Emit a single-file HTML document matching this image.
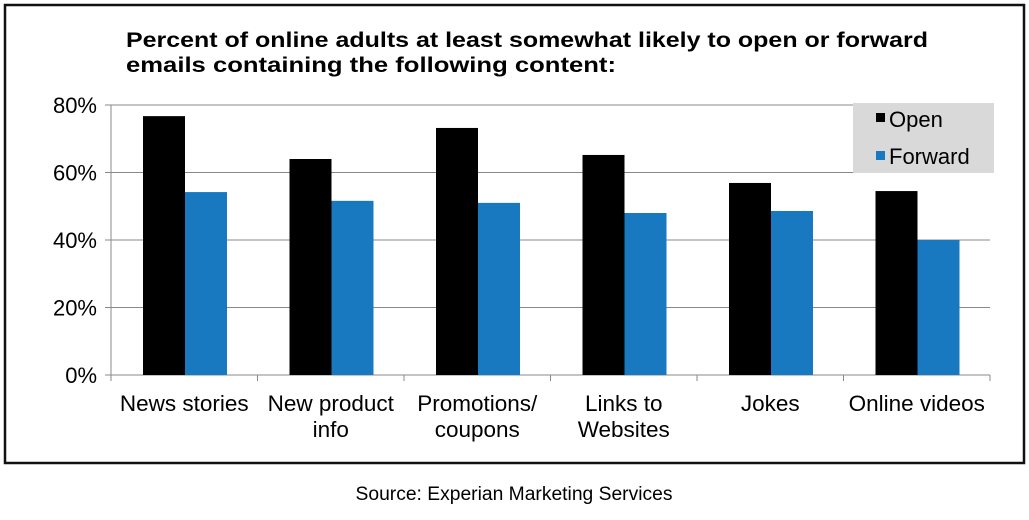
<!DOCTYPE html>
<html><head><meta charset="utf-8"><style>
body{margin:0;background:#fff;width:1029px;height:515px;overflow:hidden;font-family:"Liberation Sans",Arial,sans-serif}
</style></head><body>
<svg width="1029" height="515">
<rect x="5" y="5" width="1019" height="458" fill="#fff" stroke="#111" stroke-width="2.5"/>
<text x="126" y="47" font-size="21" font-weight="bold" textLength="802" lengthAdjust="spacingAndGlyphs">Percent of online adults at least somewhat likely to open or forward</text>
<text x="126" y="72" font-size="21" font-weight="bold" textLength="490" lengthAdjust="spacingAndGlyphs">emails containing the following content:</text>
<g id="grid"></g><g id="bars"></g><g id="xlab"></g>
<rect x="853" y="103" width="141" height="70" fill="#d9d9d9"/>
<rect x="876" y="113" width="9" height="9" fill="#000"/>
<text x="889" y="127" font-size="22">Open</text>
<rect x="876" y="151" width="9" height="9" fill="#1878c0"/>
<text x="889" y="164" font-size="22">Forward</text>
<text x="514" y="500" font-size="19" text-anchor="middle" textLength="317" lengthAdjust="spacingAndGlyphs">Source: Experian Marketing Services</text>
</svg>
<script>
const categories=[["News stories"],["New product","info"],["Promotions/","coupons"],["Links to","Websites"],["Jokes"],["Online videos"]];
const openVals=[76.7,64,73.2,65.2,56.9,54.5];
const forwardVals=[54.2,51.6,51,48,48.6,40];
const ticks=[0,20,40,60,80];
const NS="http://www.w3.org/2000/svg";
const X0=111,X1=990,Y0=375,Y80=105;
const y=v=>Y0-(v/80)*(Y0-Y80);
const cw=(X1-X0)/categories.length;
function mk(t,a,p){const e=document.createElementNS(NS,t);for(const k in a)e.setAttribute(k,a[k]);p.appendChild(e);return e;}
const g=document.getElementById('grid'),b=document.getElementById('bars'),xl=document.getElementById('xlab');
ticks.forEach(t=>{
 const l=mk('line',{x1:X0-6,x2:X1,y1:y(t),y2:y(t),stroke:'#888','stroke-width':1},g);
 
 
 const tx=mk('text',{x:X0-14,y:y(t)+8,'font-size':22,'text-anchor':'end'},g);tx.textContent=t+'%';
 
 
});
const ax=mk('line',{x1:X0,x2:X0,y1:Y80,y2:Y0+6,stroke:'#888'},g);


for(let i=0;i<=categories.length;i++){
 const tk=mk('line',{x1:X0+i*cw,x2:X0+i*cw,y1:Y0,y2:Y0+6,stroke:'#888'},g);
 
 
}
categories.forEach((c,i)=>{
 const sx=X0+i*cw+32;
 const r1=mk('rect',{x:sx,y:y(openVals[i]),width:42,height:Y0-y(openVals[i]),fill:'#000'},b);
 
 
 const r2=mk('rect',{x:sx+42,y:y(forwardVals[i]),width:42,height:Y0-y(forwardVals[i]),fill:'#1878c0'},b);
 
 
 c.forEach((s,j)=>{
  const t=mk('text',{x:X0+(i+0.5)*cw,y:411+j*26,'font-size':22.5,'text-anchor':'middle'},xl);t.textContent=s;
  
  
 });
});
</script>
</body></html>
